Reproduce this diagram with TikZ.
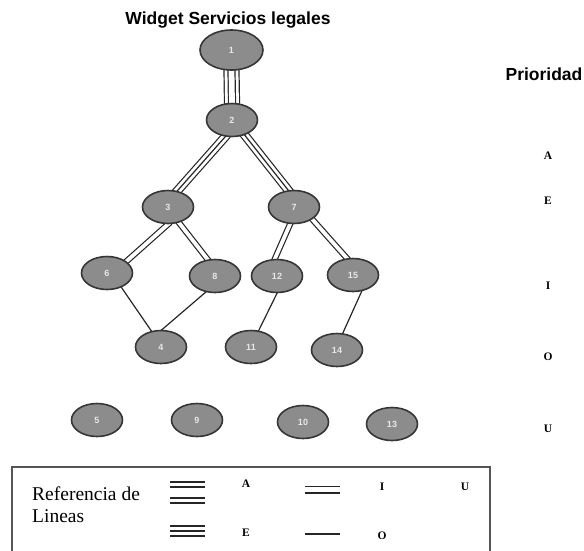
\documentclass[tikz,border=0pt]{standalone}
\usepackage{fontspec}
\setmainfont{Liberation Serif}
\setsansfont{Liberation Sans}
\usetikzlibrary{shapes.geometric,backgrounds}

\definecolor{nodefill}{HTML}{8C8C8C}
\definecolor{nodeedge}{HTML}{363636}
\definecolor{numtext}{HTML}{E8E8E8}
\definecolor{linkcol}{HTML}{262626}
\definecolor{framecol}{HTML}{555555}

\tikzset{
  task/.style={ellipse, draw=nodeedge, line width=1.6pt, fill=nodefill,
    minimum width=51pt, minimum height=33pt, inner sep=0pt, text=numtext,
    font=\sffamily\bfseries\fontsize{9}{9}\selectfont},
  bigtask/.style={task, minimum width=63pt, minimum height=40pt},
  heading/.style={font=\sffamily\bfseries\fontsize{17.5}{18}\selectfont, inner sep=0pt},
  prio/.style={font=\rmfamily\bfseries\fontsize{11.5}{11.5}\selectfont, inner sep=0pt},
  legendtext/.style={font=\rmfamily\fontsize{19.5}{22}\selectfont, inner sep=0pt},
  % one line (O)
  linkO/.style={draw=linkcol, line width=1.2pt},
  % two lines (I)
  linkI/.style={draw=linkcol, line width=1.2pt, double=white, double distance=3.8pt},
  % three lines (E)
  linkE/.style={preaction={draw=linkcol, line width=9.2pt},
                preaction={draw=white, line width=6.8pt},
                draw=linkcol, line width=1.2pt},
  % four lines in two pairs (A)
  linkA/.style={preaction={draw=linkcol, line width=16.2pt},
                preaction={draw=white, line width=13.8pt},
                preaction={draw=linkcol, line width=8.2pt},
                draw=white, line width=5.8pt},
  % legend variants
  keyI/.style={draw=linkcol, line width=1.2pt, double=white, double distance=5.6pt},
  keyPair/.style={draw=linkcol, line width=1.2pt, double=white, double distance=3.8pt},
  keyE/.style={preaction={draw=linkcol, line width=11.2pt},
               preaction={draw=white, line width=8.8pt},
               draw=linkcol, line width=1.2pt},
  into/.style={shorten <=-3pt, shorten >=-3pt},
}

\begin{document}
\begin{tikzpicture}[x=1pt,y=-1pt]
\useasboundingbox (0,0) rectangle (584,550);

% headings
\node[heading, anchor=base] (title) at (228,24) {Widget Servicios legales};
\node[heading, anchor=base] (prioridad) at (544,80) {Prioridad};

% priority scale
\node[prio] (pA) at (548,156) {A};
\node[prio] (pE) at (548,201) {E};
\node[prio] (pI) at (548,286) {I};
\node[prio] (pO) at (548,357) {O};
\node[prio] (pU) at (548,429) {U};

% activities
\node[bigtask] (n1)  at (231.5,50) {1};
\node[task]    (n2)  at (232,120) {2};
\node[task]    (n3)  at (168,207) {3};
\node[task]    (n7)  at (294,207) {7};
\node[task]    (n6)  at (107,273) {6};
\node[task]    (n8)  at (215,276) {8};
\node[task]    (n12) at (277,276) {12};
\node[task]    (n15) at (353,275) {15};
\node[task]    (n4)  at (161,347) {4};
\node[task]    (n11) at (251,347) {11};
\node[task]    (n14) at (337,350) {14};
\node[task]    (n5)  at (97,420) {5};
\node[task]    (n9)  at (197,420) {9};
\node[task]    (n10) at (303,422) {10};
\node[task]    (n13) at (392,424) {13};

% relationships, drawn behind the ellipses
\begin{scope}[on background layer]
  \draw[linkA, into] (n1.south) -- (n2.north);
  \draw[linkE, into] (n2.248) -- (n3.60);
  \draw[linkE, into] (n2.310) -- (n7.109);
  \draw[linkI, into] (n3.270) -- (n6.31);
  \draw[linkI, into] (n3.305) -- (n8.114);
  \draw[linkI, into] (n7.257) -- (n12.97);
  \draw[linkI, into] (n7.326) -- (n15.110);
  \draw[linkO, into] (n6.315) -- (n4.121);
  \draw[linkO, into] (n8.240) -- (n4.87);
  \draw[linkO, into] (n12.270) -- (n11.65);
  \draw[linkO, into] (n15.298) -- (n14.71);
\end{scope}

% legend
\draw[line width=1.2pt, draw=framecol] (12,556) -- (12,467) -- (490,467) -- (490,556);
\node[legendtext, anchor=base west] (leg1) at (32,500) {Referencia de};
\node[legendtext, anchor=base west] (leg2) at (32,522) {Lineas};

\coordinate (ka1) at (170,484.5); \coordinate (ka2) at (205,484.5);
\coordinate (ka3) at (170,500.5); \coordinate (ka4) at (205,500.5);
\draw[keyPair] (ka1) -- (ka2);
\draw[keyPair] (ka3) -- (ka4);
\node[prio] (kA) at (246,484) {A};

\coordinate (ke1) at (170,531); \coordinate (ke2) at (205,531);
\draw[keyE] (ke1) -- (ke2);
\node[prio] (kE) at (246,533) {E};

\coordinate (ki1) at (305,489.5); \coordinate (ki2) at (340,489.5);
\draw[keyI] (ki1) -- (ki2);
\node[prio] (kI) at (382,487) {I};

\coordinate (ko1) at (305,534); \coordinate (ko2) at (340,534);
\draw[linkO] (ko1) -- (ko2);
\node[prio] (kO) at (382,536) {O};

\node[prio] (kU) at (465,487) {U};
\end{tikzpicture}
\end{document}
